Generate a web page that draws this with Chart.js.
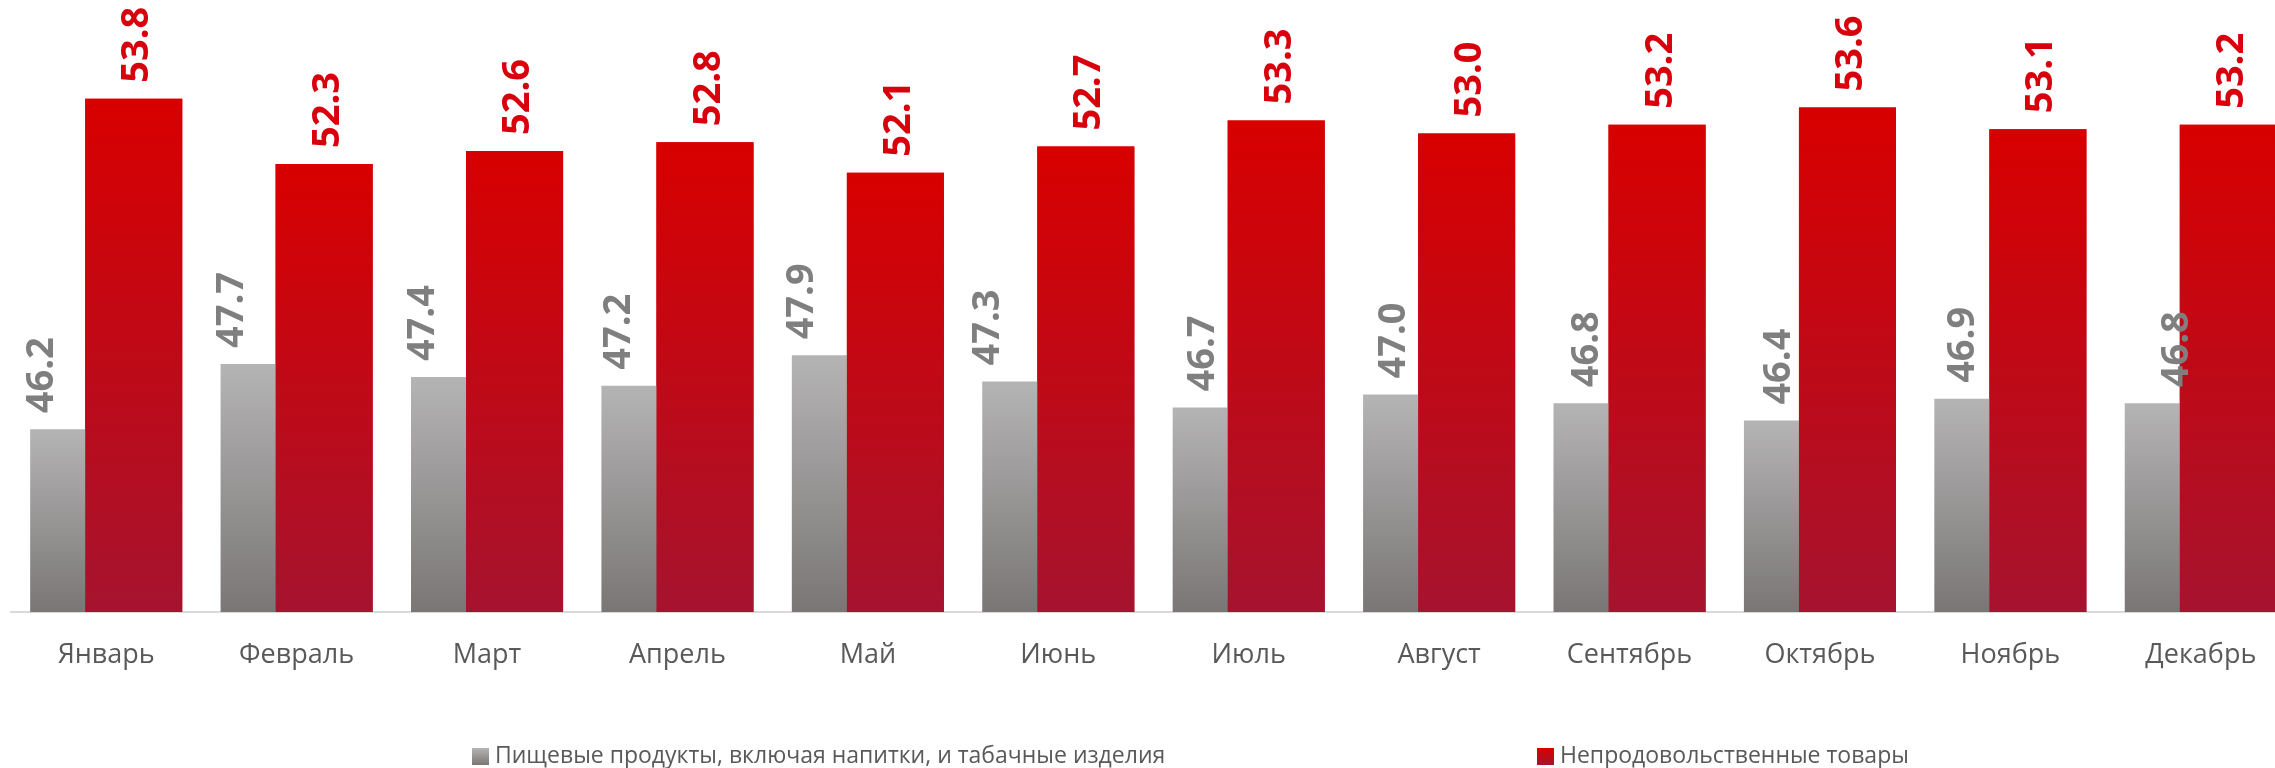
<!DOCTYPE html>
<html>
<head>
<meta charset="utf-8">
<script src="https://cdn.jsdelivr.net/npm/chart.js@4"></script>
<style>
  html, body { margin: 0; padding: 0; background: #fff; overflow: hidden; }
  #wrap { position: relative; width: 2296px; height: 768px; }
  .legend { position: absolute; top: 740px; font-family: 'Open Sans', sans-serif; font-size: 23px; color: #595959; white-space: nowrap; line-height: 29px; }
  .legend i { display: inline-block; width: 17px; height: 17px; vertical-align: -2px; margin-right: 6px; }
</style>
</head>
<body>
<div id="wrap">
  <canvas id="chart" width="2296" height="768"></canvas>
  <div class="legend" id="leg0" style="left:472px"></div>
  <div class="legend" id="leg1" style="left:1537px"></div>
</div>
<script>
const months = ['Январь', 'Февраль', 'Март', 'Апрель', 'Май', 'Июнь', 'Июль', 'Август', 'Сентябрь', 'Октябрь', 'Ноябрь', 'Декабрь'];
const foodShare = [46.2, 47.7, 47.4, 47.2, 47.9, 47.3, 46.7, 47.0, 46.8, 46.4, 46.9, 46.8];
const nonFoodShare = [53.8, 52.3, 52.6, 52.8, 52.1, 52.7, 53.3, 53.0, 53.2, 53.6, 53.1, 53.2];
const seriesNames = ['Пищевые продукты, включая напитки, и табачные изделия', 'Непродовольственные товары'];

// label nudges of the grey value labels (px from the bar's left edge), hand placed in the original
const grayLabelNudge = [9, 9, 9, 15, 8, 3, 28, 28, 31, 33, 26, 50];

const grayStops = ['#b5b4b4', '#7a7676'];
const redStops = ['#d80000', '#a6132e'];

function barGradient(stops) {
  return function (ctx) {
    const chart = ctx.chart;
    const area = chart.chartArea;
    if (ctx.type !== 'data' || !area) return stops[1];
    const top = chart.scales.y.getPixelForValue(ctx.raw);
    const g = chart.ctx.createLinearGradient(0, top, 0, area.bottom);
    g.addColorStop(0, stops[0]);
    g.addColorStop(1, stops[1]);
    return g;
  };
}

// grey bars sit partly behind the red ones, so draw red again on top
const redOnTop = {
  id: 'redOnTop',
  afterDatasetsDraw(chart) {
    const area = chart.chartArea;
    const c = chart.ctx;
    c.save();
    c.beginPath();
    c.rect(area.left, area.top, area.right - area.left, area.bottom - area.top);
    c.clip();
    chart.getDatasetMeta(1).data.forEach(function (bar) { bar.draw(c); });
    c.restore();
  }
};

const valueLabels = {
  id: 'valueLabels',
  afterDraw(chart) {
    const c = chart.ctx;
    const fontSize = 38;
    c.save();
    c.font = 'bold ' + fontSize + 'px "Open Sans"';
    c.textAlign = 'left';
    c.textBaseline = 'alphabetic';
    const cap = fontSize * 0.714;
    [0, 1].forEach(function (di) {
      const meta = chart.getDatasetMeta(di);
      const vals = di === 0 ? foodShare : nonFoodShare;
      c.fillStyle = di === 0 ? '#7f7f7f' : '#d9000d';
      meta.data.forEach(function (bar, i) {
        const x = di === 0 ? bar.x - bar.width / 2 + grayLabelNudge[i] : bar.x + 1;
        const y = bar.y - 16;
        c.save();
        c.translate(x, y);
        c.rotate(-Math.PI / 2);
        c.fillText(vals[i].toFixed(1), 0, cap / 2);
        c.restore();
      });
    });
    c.restore();
  }
};

new Chart(document.getElementById('chart'), {
  type: 'bar',
  data: {
    labels: months,
    datasets: [
      { label: seriesNames[0], data: foodShare, backgroundColor: barGradient(grayStops) },
      { label: seriesNames[1], data: nonFoodShare, backgroundColor: barGradient(redStops) }
    ]
  },
  options: {
    responsive: false,
    animation: false,
    categoryPercentage: 0.578,
    barPercentage: 1.7636,
    layout: { padding: { left: 11, right: 0, top: 0, bottom: 0 } },
    plugins: { legend: { display: false }, tooltip: { enabled: false } },
    scales: {
      x: {
        grid: { display: false, drawTicks: false },
        border: { display: true, color: '#d9d9d9', width: 2 },
        ticks: { color: '#595959', font: { family: 'Open Sans', size: 27 }, padding: 27, maxRotation: 0, autoSkip: false },
        afterFit(scale) { scale.height = 156; }
      },
      y: { display: false, min: 42, max: 56.07 }
    }
  },
  plugins: [redOnTop, valueLabels]
});

// legend below the plot
[grayStops, redStops].forEach(function (stops, i) {
  const el = document.getElementById('leg' + i);
  const sw = document.createElement('i');
  sw.style.background = 'linear-gradient(' + stops[0] + ',' + stops[1] + ')';
  el.appendChild(sw);
  el.appendChild(document.createTextNode(seriesNames[i]));
});
</script>
</body>
</html>
